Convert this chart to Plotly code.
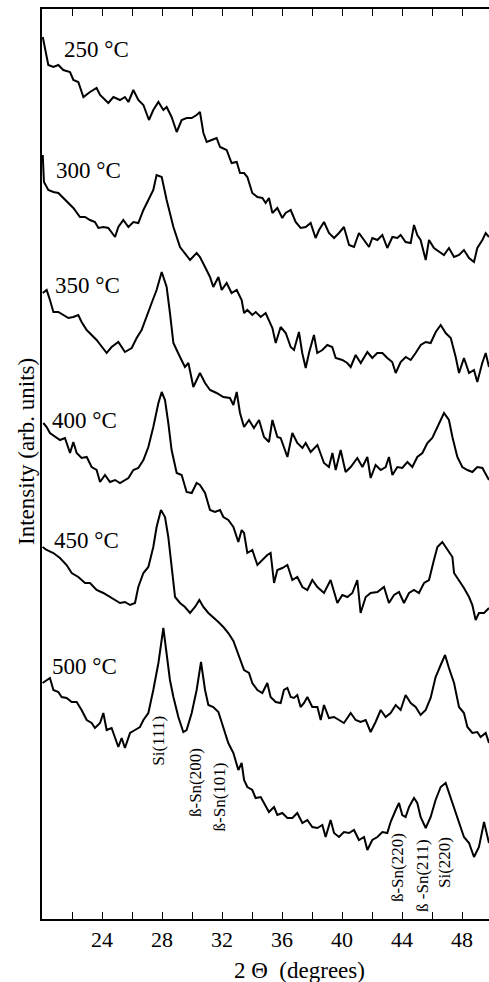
import plotly.graph_objects as go

# ---------------- data (2-theta in degrees, intensity in arb. units) ----------------
x250 = [20.05, 20.2, 20.42, 20.76, 21.09, 21.42, 21.87, 22.09, 22.42, 22.76, 23.2, 23.64, 23.87, 24.42, 24.76,
        25.2, 25.53, 25.76, 26.09, 26.42, 26.76, 27.13, 27.42, 27.76, 28.09, 28.31, 28.64, 28.98, 29.31, 29.64,
        29.98, 30.31, 30.53, 30.76, 30.98, 31.31, 31.64, 31.87, 32.31, 32.64, 32.98, 33.2,
        33.47, 33.69, 34.02, 34.36, 34.69, 34.91, 35.13, 35.36, 35.69, 36.02, 36.24, 36.58, 36.91, 37.24, 37.58,
        37.91, 38.24, 38.47, 38.8, 39.13, 39.47, 39.8, 40.13, 40.47, 40.8, 41.13, 41.47, 41.8, 42.02, 42.36,
        42.69, 43.02, 43.36, 43.69, 43.91, 44.24, 44.58, 44.8, 45.02, 45.24, 45.58, 45.8, 46.13, 46.47, 46.8,
        47.13, 47.47, 47.8, 48.13, 48.47, 48.8, 49.02, 49.36, 49.58, 49.8]
i250 = [882, 872, 854, 852, 854, 849, 847, 839, 837, 822, 827, 831, 824, 816, 822, 819, 822, 817, 829, 819,
        814, 799, 809, 817, 809, 812, 802, 787, 799, 801, 801, 804, 807, 786, 777, 779, 781, 772, 769, 756,
        757, 746,
        746, 742, 726, 722, 721, 716, 721, 706, 711, 701, 706, 709, 697, 691, 692, 696, 681, 689, 697, 686,
        681, 686, 692, 674, 672, 686, 679, 672, 681, 679, 684, 671, 682, 681, 684, 677, 676, 694, 684, 679,
        659, 679, 671, 667, 664, 671, 662, 664, 669, 661, 657, 671, 679, 686, 682]

x300 = [20.05, 20.13, 20.42, 20.76, 21.09, 21.42, 21.76, 22.09, 22.53, 22.87, 23.2, 23.53, 23.76, 24.09, 24.42,
        24.87, 25.09, 25.42, 25.76, 26.09, 26.42, 26.76, 27.09, 27.42, 27.64, 27.98,
        28.31, 28.76, 29.2, 29.53, 29.87, 30.31, 30.53, 30.87, 31.2, 31.42, 31.76, 31.98, 32.31, 32.64, 32.98, 33.31,
        33.47, 33.69, 34.02, 34.25, 34.58, 34.91, 35.13, 35.36,
        35.58, 35.91, 36.25, 36.58, 36.8, 37.13, 37.35, 37.58, 37.8, 38.13, 38.35, 38.69, 39.02, 39.35, 39.58,
        40.02, 40.35, 40.58, 40.91, 41.25, 41.69, 42.02, 42.35, 42.69, 43.02, 43.35, 43.58, 43.91, 44.25, 44.58,
        44.91, 45.25, 45.58, 45.91, 46.25, 46.58, 46.91, 47.25, 47.58, 47.8, 48.13, 48.47, 48.8, 49.02, 49.35,
        49.58, 49.8]
i300 = [764, 737, 729, 727, 726, 721, 716, 711, 702, 702, 699, 697, 691, 692, 691, 682, 692, 699, 692, 697,
        696, 709, 719, 729, 744, 742,
        719, 692, 672, 666, 659, 666, 662, 652, 642, 632, 642, 629, 636, 626, 629, 619,
        606, 609, 604, 607, 602, 606, 599, 591,
        576, 592, 586, 572, 569, 587, 566, 551, 566, 584, 566, 569, 574, 572, 561, 559, 556, 552, 564, 556,
        567, 561, 566, 566, 561, 557, 546, 557, 562, 559, 566, 574, 577, 576, 587, 594, 586, 581, 562, 546,
        561, 546, 549, 537, 556, 566, 552]

x350 = [20.05, 20.31, 20.53, 20.76, 21.09, 21.42, 21.76, 22.09, 22.42, 22.64, 22.98, 23.64, 24.31, 24.64, 25.09,
        25.53, 25.98, 26.31, 26.64, 27.31, 27.64, 27.98, 28.31, 28.53, 28.76, 29.2, 29.53, 29.76, 30.09, 30.53,
        30.87, 31.2, 31.64, 32.09, 32.53, 32.76, 32.98, 33.2,
        33.47, 33.8, 34.13, 34.47, 34.8, 35.13, 35.36, 35.69, 35.91, 36.36, 36.69, 37.02, 37.36, 37.58, 37.91,
        38.36, 38.8, 39.13, 39.36, 39.58, 39.91, 40.24, 40.58, 41.02, 41.36, 41.69, 41.91, 42.24, 42.58, 42.91,
        43.13, 43.36, 43.69, 44.02, 44.36, 44.69, 45.02, 45.36, 45.69, 46.02, 46.36, 46.8, 47.13, 47.36, 47.69,
        48.02, 48.36, 48.69, 49.02, 49.36, 49.8]
i350 = [626, 629, 619, 607, 607, 604, 601, 602, 604, 597, 589, 579, 566, 572, 577, 567, 571, 581, 589, 616,
        629, 647, 632, 606, 576, 562, 552, 556, 532, 546, 536, 529, 526, 522, 521, 514, 527, 506,
        492, 499, 491, 499, 482, 477, 499, 482, 481, 462, 486, 476, 471, 476, 467, 474, 456, 452, 466, 449,
        469, 447, 452, 461, 452, 462, 441, 454, 449, 452, 462, 444, 452, 451, 457, 452, 462, 466, 476, 481,
        492, 506, 499, 482, 462, 452, 449, 447, 452, 451, 439]

x400 = [20.09, 20.31, 20.53, 20.87, 21.2, 21.53, 21.87, 22.09, 22.31, 22.64, 22.98, 23.31, 23.64, 23.87, 24.2,
        24.53, 24.87, 25.2, 25.53, 25.76, 26.09, 26.42, 26.76, 27.09, 27.42, 27.76, 27.98, 28.2, 28.42, 28.64,
        28.98, 29.31, 29.64, 29.98, 30.31, 30.53, 30.87, 31.2, 31.53, 31.87, 32.09, 32.42, 32.76, 33.09, 33.31,
        33.47, 33.69, 34.02, 34.36, 34.69, 35.02, 35.24, 35.47, 35.69, 36.02, 36.36, 36.69, 37.02, 37.36, 37.69,
        38.02, 38.36, 38.8, 39.24, 39.69, 40.02, 40.36, 40.69, 41.02, 41.24, 41.58, 41.91, 42.36, 42.8, 43.13,
        43.47, 43.8, 44.13, 44.47, 44.8, 45.13, 45.47, 45.8, 46.13, 46.36, 46.69, 47.02, 47.36, 47.47, 47.8,
        48.13, 48.47, 48.69, 48.91, 49.13, 49.47, 49.8]
i400 = [496, 492, 486, 482, 479, 481, 466, 477, 466, 461, 462, 452, 449, 437, 444, 437, 439, 436, 439, 441,
        449, 451, 459, 472, 492, 516, 527, 519, 496, 469, 446, 444, 427, 426, 436, 434, 426, 409, 407, 409,
        402, 399, 392, 377, 389,
        386, 366, 369, 354, 359, 364, 366, 336, 349, 351, 354, 339, 342, 332, 329, 339, 332, 326, 339, 316,
        324, 322, 326, 339, 306, 322, 326, 327, 332, 316, 324, 327, 316, 326, 329, 326, 336, 339, 359, 372,
        377, 369, 362, 346, 339, 331, 322, 314, 299, 306, 306, 311]

x450 = [20.04, 20.31, 20.76, 21.2, 21.64, 21.98, 22.42, 22.87, 23.2, 23.64, 24.09, 24.53, 24.87, 25.2, 25.53,
        25.87, 26.2, 26.42, 26.76, 27.09, 27.42, 27.64, 27.93, 28.2, 28.42, 28.64, 28.87, 29.2, 29.53, 29.87,
        30.2, 30.49, 30.76, 31.09, 31.42, 31.76, 32.09, 32.42, 32.76, 33.2,
        33.47, 33.8, 34.02, 34.36, 34.69, 35.02, 35.24, 35.58, 35.91, 36.13, 36.36, 36.58, 36.8, 37.02, 37.24,
        37.47, 37.69, 38.02, 38.36, 38.58, 38.8, 39.13, 39.47, 39.8, 40.13, 40.58, 40.91, 41.24, 41.58, 41.91,
        42.24, 42.58, 42.91, 43.24, 43.58, 43.91, 44.24, 44.58, 44.91, 45.24, 45.58, 45.91, 46.24, 46.58, 46.87,
        47.13, 47.47, 47.8, 48.13, 48.36, 48.69, 49.02, 49.24, 49.58, 49.8]
i450 = [372, 369, 366, 361, 354, 346, 342, 336, 336, 329, 326, 322, 319, 316, 317, 314, 316, 332, 346, 352,
        372, 392, 409, 402, 382, 352, 322, 316, 312, 306, 312, 319, 312, 306, 302, 297, 292, 286, 278, 261,
        249, 246, 236, 229, 226, 236, 222, 217, 216, 229, 231, 222, 221, 224, 212, 216, 222, 212, 212, 199,
        214, 201, 202, 199, 196, 206, 199, 197, 199, 187, 197, 209, 202, 206, 214, 209, 224, 216, 212, 204,
        209, 221, 242, 254, 264, 251, 236, 212, 206, 192, 186, 187, 182, 186, 176]

x500 = [20.04, 20.31, 20.53, 20.76, 21.09, 21.31, 21.64, 21.98, 22.31, 22.64, 22.98, 23.31, 23.53, 23.87, 24.09,
        24.31, 24.64, 25.09, 25.31, 25.53, 25.87, 26.2, 26.53, 26.76, 27.09, 27.42, 27.76, 28.09, 28.31, 28.53,
        28.76, 29.09, 29.42, 29.64, 29.98, 30.31, 30.6, 30.87, 31.09, 31.42, 31.76, 32.09, 32.42, 32.76, 33.09,
        33.31,
        33.47, 33.69, 34.02, 34.24, 34.58, 34.8, 35.13, 35.47, 35.69, 36.02, 36.36, 36.69, 37.02, 37.36, 37.69,
        38.02, 38.36, 38.69, 38.91, 39.24, 39.47, 39.8, 40.13, 40.47, 40.8, 41.13, 41.47, 41.69, 42.02, 42.36,
        42.69, 43.02, 43.24, 43.58, 43.8, 44.02, 44.24, 44.47, 44.8, 45.02, 45.24, 45.58, 45.91, 46.24, 46.58,
        46.91, 47.24, 47.58, 47.91, 48.13, 48.47, 48.8, 49.13, 49.47, 49.8]
i500 = [236, 239, 241, 229, 227, 222, 221, 217, 217, 209, 199, 196, 191, 196, 206, 189, 191, 172, 181, 171,
        186, 189, 192, 199, 206, 229, 256, 291, 262, 239, 222, 202, 187, 189, 206, 229, 257, 229, 214, 212,
        207, 192, 176, 166, 149, 156,
        139, 132, 129, 121, 122, 116, 107, 112, 104, 106, 101, 101, 106, 96, 99, 92, 91, 94, 82, 99,
        86, 82, 87, 86, 89, 79, 82, 69, 79, 82, 87, 86, 97, 109, 116, 104, 102, 112, 121, 116,
        102, 91, 102, 119, 132, 136, 122, 106, 92, 82, 76, 62, 72, 97, 76]

series_x = [x250, x300, x350, x400, x450, x500]
series_i = [i250, i300, i350, i400, i450, i500]

temp_labels = ["250 °C", "300 °C", "350 °C", "400 °C", "450 °C", "500 °C"]
temp_label_x = [21.31, 20.8, 20.73, 20.53, 20.67, 20.53]
temp_label_y = [870, 749, 634, 499, 379, 253]

peak_labels = ["Si(111)", "ß-Sn(200)", "ß-Sn(101)", "ß-Sn(220)", "ß -Sn(211)", "Si(220)"]
peak_x = [27.71, 30.2, 31.83, 43.67, 45.33, 46.8]
peak_y = [178, 136, 122, 51, 44, 56]

x_ticks = [24, 28, 32, 36, 40, 44, 48]
x_minor = [22, 26, 30, 34, 38, 42, 46]

# ---------------- figure ----------------
SERIF = "Liberation Serif, Times New Roman, serif"
fig = go.Figure()
for xs, ys in zip(series_x, series_i):
    fig.add_trace(go.Scatter(x=xs, y=ys, mode="lines",
                             line=dict(color="black", width=2), showlegend=False,
                             hoverinfo="skip"))

annotations = []
for t, ax, ay in zip(temp_labels, temp_label_x, temp_label_y):
    annotations.append(dict(x=ax, y=ay, xref="x", yref="y", text=t, showarrow=False,
                            xanchor="left", yanchor="middle",
                            font=dict(family=SERIF, size=23, color="black")))
for t, ax, ay in zip(peak_labels, peak_x, peak_y):
    annotations.append(dict(x=ax, y=ay, xref="x", yref="y", text=t, showarrow=False,
                            textangle=-90, xanchor="center", yanchor="middle",
                            font=dict(family=SERIF, size=17, color="black")))
# axis titles
annotations.append(dict(x=(26 - 42) / 447, y=(919 - 452) / 910, xref="paper", yref="paper",
                        text="Intensity (arb. units)", showarrow=False, textangle=-90,
                        xanchor="center", yanchor="middle",
                        font=dict(family=SERIF, size=23, color="black")))
annotations.append(dict(x=(299 - 42) / 447, y=(919 - 970) / 910, xref="paper", yref="paper",
                        text="2 Θ  (degrees)", showarrow=False,
                        xanchor="center", yanchor="middle",
                        font=dict(family=SERIF, size=23, color="black")))

fig.update_layout(
    width=489, height=982,
    margin=dict(l=42, r=0, t=9, b=63),
    paper_bgcolor="white", plot_bgcolor="white",
    annotations=annotations,
    xaxis=dict(range=[20, 49.8], tickvals=x_ticks, ticktext=[str(v) for v in x_ticks],
               showgrid=False, zeroline=False, showline=True, linecolor="black", linewidth=1.5,
               ticks="inside", ticklen=7, tickwidth=1.2, tickcolor="black", mirror="ticks",
               tickfont=dict(family=SERIF, size=22, color="black"),
               minor=dict(tickvals=x_minor, ticks="inside", ticklen=7, tickwidth=1.2,
                          tickcolor="black", showgrid=False)),
    yaxis=dict(range=[0, 910], showticklabels=False, showgrid=False, zeroline=False,
               showline=True, linecolor="black", linewidth=1.5, ticks=""),
)

fig.write_html("out.html", config={"displayModeBar": False},
               post_script="document.body.style.margin='0';document.body.style.padding='0';"
                           "document.body.style.overflow='hidden';")
